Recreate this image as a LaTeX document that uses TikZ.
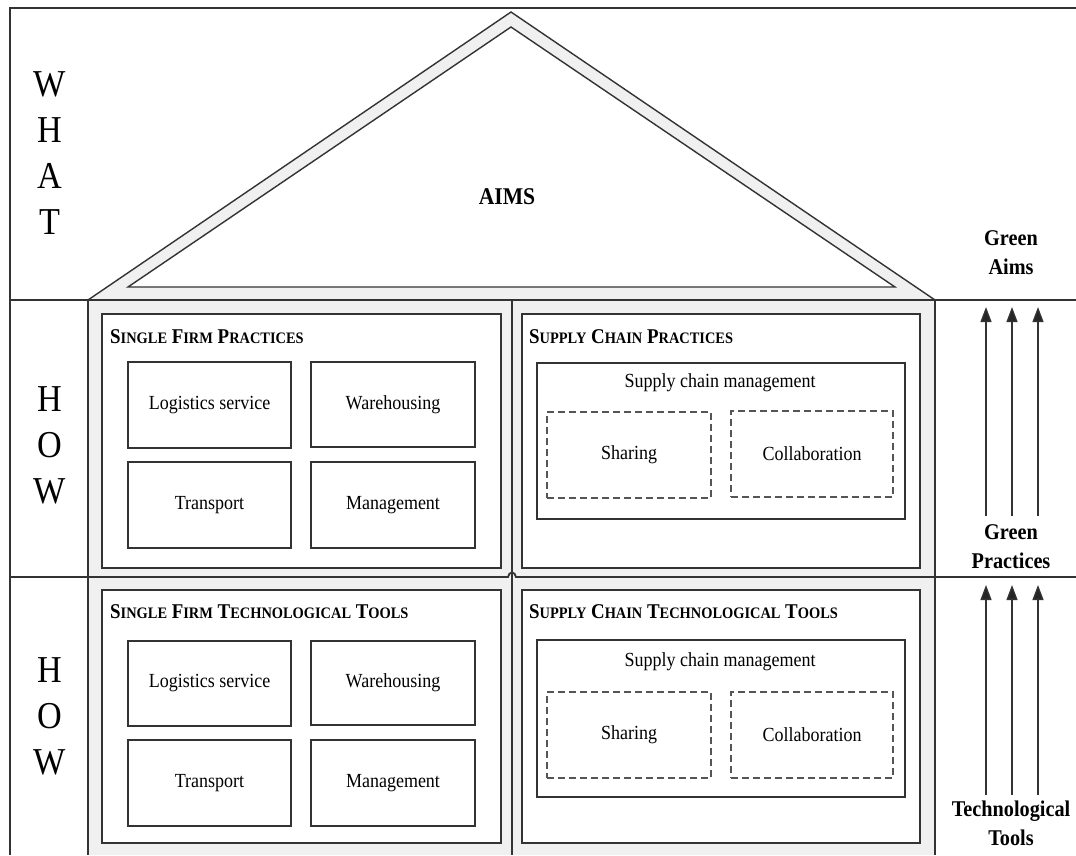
\documentclass[tikz,border=0pt]{standalone}
\usepackage{fontspec}
\setmainfont{Liberation Serif}[FakeStretch=0.9]
\usetikzlibrary{arrows.meta}
\definecolor{linec}{HTML}{333333}
\definecolor{wallfill}{HTML}{F0F0F0}
\definecolor{dashc}{HTML}{555555}
% fake small caps for the section headers
\newcommand\hsc[1]{{\fontsize{16}{18}\selectfont #1}}
\begin{document}
\begin{tikzpicture}[x=1pt,y=-1pt,
  frame/.style={draw=linec, line width=1.8pt},
  wall/.style={draw=linec, line width=1.4pt},
  sect/.style={draw=linec, line width=1.4pt, fill=white, inner sep=0pt},
  cell/.style={draw=linec, line width=1.3pt, fill=white, inner sep=0pt,
    font=\fontsize{20}{22}\selectfont},
  dcell/.style={cell, draw=dashc, dash pattern=on 7pt off 4pt},
  header/.style={anchor=west, inner sep=0pt, font=\bfseries\fontsize{21}{24}\selectfont},
  stack/.style={align=center, inner sep=0pt, font=\fontsize{38}{46}\selectfont},
  side/.style={align=center, inner sep=0pt, font=\bfseries\fontsize{22.5}{29}\selectfont},
  uparrow/.style={draw=linec, line width=1.3pt, -{Triangle[length=15pt,width=11pt,fill=black!85]}},
  plain/.style={inner sep=0pt, font=\fontsize{20}{22}\selectfont}
]
\useasboundingbox (0,0) rectangle (1076,855);

% ---- house body and roof (grey walls) ----
\fill[wallfill] (88,855) -- (88,300) -- (511,12) -- (935,300) -- (935,855) -- cycle;
\filldraw[fill=white, wall] (128,287) -- (511,27) -- (895,287) -- cycle;
\draw[wall] (88,300) -- (511,12) -- (935,300);
\draw[wall] (88,300) -- (88,855);
\draw[wall] (935,300) -- (935,855);
\draw[wall] (512,300) -- (512,855);

% ---- outer frame and row dividers ----
\draw[frame] (1076,8) -- (10,8) -- (10,855);
\draw[frame] (10,300) -- (1076,300);
\draw[frame] (10,577) -- (508,577) .. controls (509,571) and (515,571) .. (516,577) -- (1076,577);

% ---- row labels ----
\node[stack] (what) at (50,153) {W\\H\\A\\T};
\node[stack] (how1) at (50,445) {H\\O\\W};
\node[stack] (how2) at (50,716) {H\\O\\W};
\node[inner sep=0pt, font=\bfseries\fontsize{24}{26}\selectfont] (aims) at (507,197) {AIMS};

% ---- section boxes ----
\node[sect, minimum width=399pt, minimum height=254pt] (sfp) at (301.5,441) {};
\node[sect, minimum width=398pt, minimum height=254pt] (scp) at (721,441) {};
\node[sect, minimum width=399pt, minimum height=253pt] (sft) at (301.5,716.5) {};
\node[sect, minimum width=398pt, minimum height=253pt] (sct) at (721,716.5) {};

\node[header] (sfph) at (110,337) {S\hsc{INGLE} F\hsc{IRM} P\hsc{RACTICES}};
\node[header] (scph) at (529,337) {S\hsc{UPPLY} C\hsc{HAIN} P\hsc{RACTICES}};
\node[header] (sfth) at (110,612) {S\hsc{INGLE} F\hsc{IRM} T\hsc{ECHNOLOGICAL} T\hsc{OOLS}};
\node[header] (scth) at (529,612) {S\hsc{UPPLY} C\hsc{HAIN} T\hsc{ECHNOLOGICAL} T\hsc{OOLS}};

% ---- single firm practices ----
\node[cell, minimum width=163pt, minimum height=86pt] (p1) at (209.5,405) {Logistics service};
\node[cell, minimum width=164pt, minimum height=85pt] (p2) at (393,404.5) {Warehousing};
\node[cell, minimum width=163pt, minimum height=86pt] (p3) at (209.5,505) {Transport};
\node[cell, minimum width=164pt, minimum height=86pt] (p4) at (393,505) {Management};

% ---- supply chain practices ----
\node[cell, minimum width=368pt, minimum height=156pt] (pscm) at (721,441) {};
\node[plain] (pscmt) at (720,383) {Supply chain management};
\node[dcell, minimum width=164pt, minimum height=86pt] (psh) at (629,455) {Sharing};
\node[dcell, minimum width=162pt, minimum height=86pt] (pco) at (812,454) {Collaboration};

% ---- single firm technological tools ----
\node[cell, minimum width=163pt, minimum height=85pt] (t1) at (209.5,683.5) {Logistics service};
\node[cell, minimum width=164pt, minimum height=84pt] (t2) at (393,683) {Warehousing};
\node[cell, minimum width=163pt, minimum height=86pt] (t3) at (209.5,783) {Transport};
\node[cell, minimum width=164pt, minimum height=86pt] (t4) at (393,783) {Management};

% ---- supply chain technological tools ----
\node[cell, minimum width=368pt, minimum height=157pt] (tscm) at (721,718.5) {};
\node[plain] (tscmt) at (720,662) {Supply chain management};
\node[dcell, minimum width=164pt, minimum height=86pt] (tsh) at (629,735) {Sharing};
\node[dcell, minimum width=162pt, minimum height=86pt] (tco) at (812,735) {Collaboration};

% ---- right-hand column ----
\node[side] (gaims) at (1011,253) {Green\\Aims};
\node[side] (gprac) at (1011,547) {Green\\Practices};
\node[side] (ttools) at (1011,823) {Technological\\Tools};

\foreach \x [count=\i] in {986,1012,1038} {
  \coordinate (ua\i) at (\x,307);
  \coordinate (ub\i) at (\x,516);
  \coordinate (la\i) at (\x,585);
  \coordinate (lb\i) at (\x,795);
  \draw[uparrow] (ub\i) -- (ua\i);
  \draw[uparrow] (lb\i) -- (la\i);
}
\end{tikzpicture}
\end{document}
